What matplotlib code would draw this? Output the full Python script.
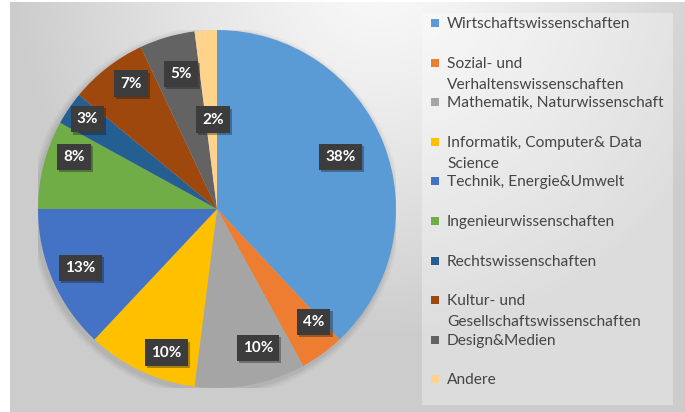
import numpy as np
import matplotlib
matplotlib.use("Agg")
import matplotlib.pyplot as plt
from matplotlib.patches import Rectangle
import matplotlib.patheffects as pe

categories = [
    "Wirtschaftswissenschaften",
    "Sozial- und Verhaltenswissenschaften",
    "Mathematik, Naturwissenschaft",
    "Informatik, Computer& Data Science",
    "Technik, Energie&Umwelt",
    "Ingenieurwissenschaften",
    "Rechtswissenschaften",
    "Kultur- und Gesellschaftswissenschaften",
    "Design&Medien",
    "Andere",
]
legend_lines = [
    ["Wirtschaftswissenschaften"],
    ["Sozial- und", "Verhaltenswissenschaften"],
    ["Mathematik, Naturwissenschaft"],
    ["Informatik, Computer& Data", "Science"],
    ["Technik, Energie&Umwelt"],
    ["Ingenieurwissenschaften"],
    ["Rechtswissenschaften"],
    ["Kultur- und", "Gesellschaftswissenschaften"],
    ["Design&Medien"],
    ["Andere"],
]
values = [38, 4, 10, 10, 13, 8, 3, 7, 5, 2]
colors = ["#5B9BD5", "#ED7D31", "#A5A5A5", "#FFC000", "#4472C4",
          "#70AD47", "#255E91", "#9E480E", "#636363", "#FFD38C"]

# label placement style (radial fraction, angle nudge in degrees)
label_frac = [0.75, 0.83, 0.81, 0.85, 0.83, 0.85, 0.88, 0.85, 0.78, 0.50]
label_nudge = [1.3, 4.6, 5.6, 5.9, 0.0, -5.7, -0.5, -3.3, -1.2, -1.1]

W, H = 685, 412
fig = plt.figure(figsize=(W / 100, H / 100), dpi=100)

# background gradient
bg = fig.add_axes([0, 0, 1, 1])
yy, xx = np.mgrid[0:H, 0:W]
d = np.sqrt((xx - 380.0) ** 2 + (yy + 30.0) ** 2)
v = 0.98 - 0.18 * np.clip(d / 370.0, 0, 1) ** 1.2
img = np.dstack([v, v, v])
img[:, :10, :] = 1.0
img[:2, :, :] = 1.0
bg.imshow(img, extent=(0, W, H, 0), interpolation="bilinear", aspect="auto")
bg.set_xlim(0, W)
bg.set_ylim(H, 0)
bg.axis("off")

# legend panel
bg.add_patch(Rectangle((422, 13), 251, 392, facecolor="white", alpha=0.33,
                       edgecolor="none"))

# pie
cx, cy, R = 217, 209, 179
ax = fig.add_axes([(cx - R) / W, (H - cy - R) / H, 2 * R / W, 2 * R / H])
# soft shadow
for k, a in enumerate([0.05, 0.04, 0.03]):
    ax.add_patch(plt.Circle((-0.01, -0.015), 1.0 + 0.012 * (k + 1),
                            color="black", alpha=a, zorder=0, lw=0))
wedges, _ = ax.pie(values, colors=colors, startangle=90, counterclock=False,
                   radius=1.0, wedgeprops=dict(linewidth=0))
for w in wedges:
    w.set_zorder(2)
ax.set_xlim(-1, 1)
ax.set_ylim(-1, 1)
ax.set_aspect("equal")
ax.axis("off")

total = sum(values)
cum = 0.0
for i, val in enumerate(values):
    mid = 90 - 360 * (cum + val / 2) / total + label_nudge[i]
    cum += val
    r = label_frac[i]
    x = r * np.cos(np.radians(mid))
    y = r * np.sin(np.radians(mid))
    t = ax.text(x, y, f"{val}%", ha="center", va="center", color="white",
                fontsize=11, fontweight="bold", family=["Lato", "DejaVu Sans"],
                zorder=5,
                bbox=dict(boxstyle="square,pad=0.4", facecolor="#3c3c3c",
                          edgecolor="none"))
    t.get_bbox_patch().set_path_effects([
        pe.SimplePatchShadow(offset=(1.5, -1.5), alpha=0.35),
        pe.Normal()])

# legend
for i, lines in enumerate(legend_lines):
    yc = 23 + i * 39.6
    bg.add_patch(Rectangle((431, yc - 4), 8, 8, facecolor=colors[i],
                           edgecolor="none"))
    for k, line in enumerate(lines):
        bg.text(447, yc + 5.0 + 21 * k, line, ha="left", va="baseline",
                fontsize=11.2, color="#454545", family=["Lato", "DejaVu Sans"])

fig.savefig("out.png", dpi=100)
